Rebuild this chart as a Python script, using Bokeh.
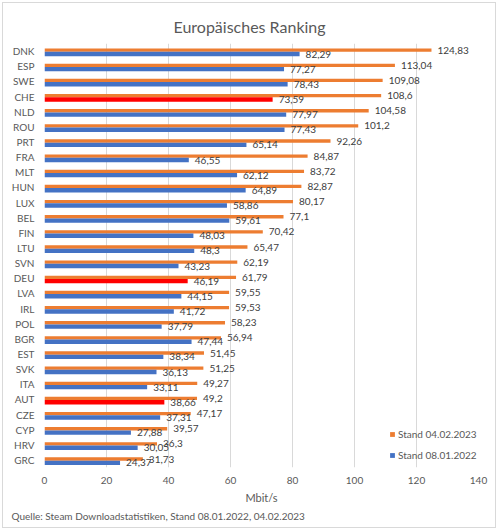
"""
Europäisches Ranking: Steam download speeds per country, 2022 vs 2023.
"""

from bokeh.core.properties import value
from bokeh.embed import file_html
from bokeh.models import ColumnDataSource, FactorRange, Legend, LegendItem, Title
from bokeh.plotting import figure
from bokeh.resources import INLINE
from bokeh.transform import dodge

countries = [
    "DNK", "ESP", "SWE", "CHE", "NLD", "ROU", "PRT", "FRA", "MLT", "HUN",
    "LUX", "BEL", "FIN", "LTU", "SVN", "DEU", "LVA", "IRL", "POL", "BGR",
    "EST", "SVK", "ITA", "AUT", "CZE", "CYP", "HRV", "GRC",
]
stand_2023 = [
    124.83, 113.04, 109.08, 108.6, 104.58, 101.2, 92.26, 84.87, 83.72, 82.87,
    80.17, 77.1, 70.42, 65.47, 62.19, 61.79, 59.55, 59.53, 58.23, 56.94,
    51.45, 51.25, 49.27, 49.2, 47.17, 39.57, 36.3, 31.73,
]
stand_2022 = [
    82.29, 77.27, 78.43, 73.59, 77.97, 77.43, 65.14, 46.55, 62.12, 64.89,
    58.86, 59.61, 48.03, 48.3, 43.23, 46.19, 44.15, 41.72, 37.79, 47.44,
    38.34, 36.13, 33.11, 38.66, 37.31, 27.88, 30.05, 24.37,
]
highlighted = ["CHE", "DEU", "AUT"]
x_ticks = [0, 20, 40, 60, 80, 100, 120, 140]

ORANGE = "#ED7D31"
BLUE = "#4472C4"
RED = "#FF0000"
TEXT = "#595959"
LABEL = "#404040"
GRID = "#D9D9D9"
FONT = "Lato"


def german(number):
    """Format a number with a decimal comma."""
    return str(number).replace(".", ",")


source = ColumnDataSource(dict(
    country=countries,
    new=stand_2023,
    old=stand_2022,
    new_label=[german(v) for v in stand_2023],
    old_label=[german(v) for v in stand_2022],
    old_color=[RED if c in highlighted else BLUE for c in countries],
))

p = figure(
    title="Europäisches Ranking",
    y_range=FactorRange(factors=list(reversed(countries))),
    x_range=(0, 140),
    width=494,
    height=526,
    output_backend="svg",
    toolbar_location=None,
    min_border_left=41,
    min_border_right=19,
    min_border_top=40,
    min_border_bottom=62,
)
# thin grey frame round the whole chart
p.styles = {"border": "1px solid #D9D9D9", "margin": "2px"}
p.outline_line_color = None

p.title.align = "left"
p.title.offset = 129
p.title.text_font = FONT
p.title.text_font_size = "16px"
p.title.text_font_style = "normal"
p.title.text_color = TEXT
p.title.standoff = 15

new_y = dodge("country", 0.06, range=p.y_range)
old_y = dodge("country", -0.195, range=p.y_range)

new_bars = p.hbar(y=new_y, left=0, right="new", height=0.22,
                  fill_color=ORANGE, line_color=None, source=source)
old_bars = p.hbar(y=old_y, left=0, right="old", height=0.29,
                  fill_color="old_color", line_color=None, source=source)

p.text(x="new", y=new_y, text="new_label", x_offset=6,
       text_baseline="middle", text_font=value(FONT),
       text_font_size="10px", text_color=LABEL, source=source)
p.text(x="old", y=old_y, text="old_label", x_offset=6,
       text_baseline="middle", text_font=value(FONT),
       text_font_size="10px", text_color=LABEL, source=source)

# axes
p.xaxis.ticker = x_ticks
p.xaxis.axis_label = "Mbit/s"
p.xaxis.axis_label_text_font = FONT
p.xaxis.axis_label_text_font_size = "11px"
p.xaxis.axis_label_text_font_style = "normal"
p.xaxis.axis_label_text_color = TEXT
p.xaxis.axis_label_standoff = 4
p.xaxis.major_label_standoff = 9

for axis in (p.xaxis, p.yaxis):
    axis.axis_line_color = None
    axis.major_tick_line_color = None
    axis.minor_tick_line_color = None
    axis.major_tick_out = 0
    axis.major_tick_in = 0
    axis.minor_tick_out = 0
    axis.major_label_text_font = FONT
    axis.major_label_text_font_size = "10px"
    axis.major_label_text_color = TEXT
p.yaxis.major_label_standoff = 10

p.xgrid.grid_line_color = GRID
p.ygrid.grid_line_color = None

legend = Legend(
    items=[
        LegendItem(label="Stand 04.02.2023", renderers=[new_bars]),
        LegendItem(label="Stand 08.01.2022", renderers=[old_bars], index=0),
    ],
    location=(345, 5),
    padding=0,
    margin=0,
    spacing=7,
    glyph_width=6,
    glyph_height=6,
    label_height=14,
    label_standoff=3,
    label_text_font=FONT,
    label_text_font_size="10px",
    label_text_color=TEXT,
    background_fill_alpha=0,
    border_line_color=None,
)
p.add_layout(legend)

p.add_layout(Title(
    text="Quelle: Steam Downloadstatistiken, Stand 08.01.2022, 04.02.2023",
    align="left", offset=-33, standoff=3,
    text_font=FONT, text_font_size="10px", text_font_style="normal",
    text_color=TEXT,
), "below")

open("out.html", "w").write(file_html(p, INLINE))
